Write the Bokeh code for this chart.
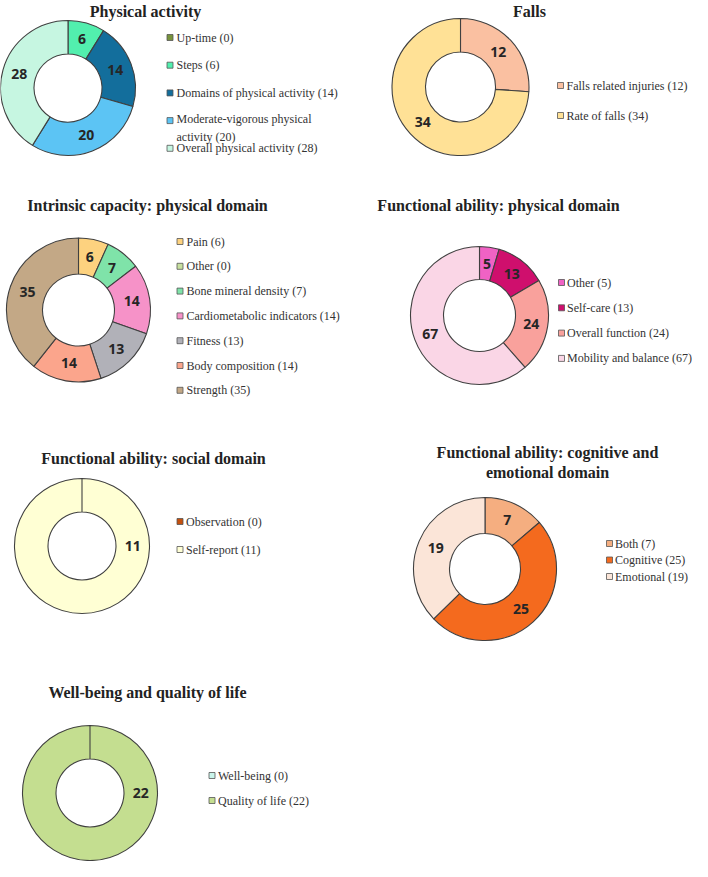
import math
import textwrap
from bokeh.plotting import figure
from bokeh.models import Range1d, ColumnDataSource
from bokeh.core.properties import value
from bokeh.embed import file_html
from bokeh.resources import INLINE

# ---------------- data ----------------
pa_categories = ["Up-time", "Steps", "Domains of physical activity",
                 "Moderate-vigorous physical activity", "Overall physical activity"]
pa_values = [0, 6, 14, 20, 28]

falls_categories = ["Falls related injuries", "Rate of falls"]
falls_values = [12, 34]

ic_categories = ["Pain", "Other", "Bone mineral density", "Cardiometabolic indicators",
                 "Fitness", "Body composition", "Strength"]
ic_values = [6, 0, 7, 14, 13, 14, 35]

fap_categories = ["Other", "Self-care", "Overall function", "Mobility and balance"]
fap_values = [5, 13, 24, 67]

fas_categories = ["Observation", "Self-report"]
fas_values = [0, 11]

face_categories = ["Both", "Cognitive", "Emotional"]
face_values = [7, 25, 19]

wb_categories = ["Well-being", "Quality of life"]
wb_values = [0, 22]

# ---------------- styles ----------------
pa_colors = ["#77933C", "#52EFAE", "#136E9C", "#5CC4F4", "#C6F6E1"]
falls_colors = ["#FAC0A1", "#FFE196"]
ic_colors = ["#FDD27F", "#C7E09F", "#7FE3A9", "#F692C8", "#B1B1B8", "#FBA58C", "#C3A886"]
fap_colors = ["#F062C4", "#CF0F6D", "#F9A19C", "#FAD6E6"]
fas_colors = ["#C4500E", "#FFFFD4"]
face_colors = ["#F5AE80", "#F46A1E", "#FBE5D8"]
wb_colors = ["#C9F4EA", "#C4DE90"]

charts = [
    dict(title="Physical activity", tx=153, ty=19, cats=pa_categories, vals=pa_values,
         cols=pa_colors, cx=75.5, cy=95.5, ro=67.5, ri=34, sx=177.5, lx=184, ly=45, ldy=27.7),
    dict(title="Falls", tx=537, ty=19, cats=falls_categories, vals=falls_values,
         cols=falls_colors, cx=468, cy=94.5, ro=68.5, ri=35, sx=568, lx=574, ly=93, ldy=30),
    dict(title="Intrinsic capacity: physical domain", tx=155, ty=213, cats=ic_categories,
         vals=ic_values, cols=ic_colors, cx=86, cy=317.5, ro=72, ri=36, sx=187.5, lx=194,
         ly=249, ldy=24.8),
    dict(title="Functional ability: physical domain", tx=506, ty=213, cats=fap_categories,
         vals=fap_values, cols=fap_colors, cx=487, cy=323, ro=69, ri=36, sx=569, lx=574.5,
         ly=290, ldy=25.3),
    dict(title="Functional ability: social domain", tx=161, ty=466, cats=fas_categories,
         vals=fas_values, cols=fas_colors, cx=89.5, cy=553.5, ro=67.5, ri=34, sx=187.5,
         lx=193.5, ly=529, ldy=28),
    dict(title="Functional ability: cognitive and\nemotional domain", tx=555, ty=470,
         cats=face_categories, vals=face_values, cols=face_colors, cx=492.5, cy=576.5,
         ro=71.5, ri=35.5, sx=617, lx=622.5, ly=551, ldy=16.5, middle=True),
    dict(title="Well-being and quality of life", tx=155, ty=700, cats=wb_categories,
         vals=wb_values, cols=wb_colors, cx=97.5, cy=800.5, ro=67.5, ri=34, sx=219.5,
         lx=225.5, ly=783, ldy=25),
]

H = 877  # reference page height, for flipping y


def Y(y):
    return H - y


p = figure(width=692, height=861, output_backend="svg", toolbar_location=None,
           x_range=Range1d(8, 700), y_range=Range1d(8, 869), min_border=0)
p.axis.visible = False
p.grid.visible = False
p.outline_line_color = None
p.background_fill_color = "white"
p.border_fill_color = "white"

OUTLINE = "#404040"
SERIF = value("Liberation Serif")

for c in charts:
    vals = c["vals"]
    total = float(sum(vals))
    cum = 0.0
    ws = dict(x=[], y=[], start=[], end=[], color=[])
    lab = dict(x=[], y=[], text=[])
    rm = (c["ro"] + c["ri"]) / 2.0
    for v, col in zip(vals, c["cols"]):
        a0 = cum / total * 2 * math.pi
        cum += v
        a1 = cum / total * 2 * math.pi
        if v > 0:
            ws["x"].append(c["cx"])
            ws["y"].append(Y(c["cy"]))
            if v == total:
                ws["start"].append(math.pi / 2)
                ws["end"].append(math.pi / 2 - 2 * math.pi + 1e-6)
                th = math.pi / 2
            else:
                ws["start"].append(math.pi / 2 - a0)
                ws["end"].append(math.pi / 2 - a1)
                th = (a0 + a1) / 2
            ws["color"].append(col)
            lab["x"].append(c["cx"] + rm * math.sin(th))
            lab["y"].append(Y(c["cy"] - rm * math.cos(th)))
            lab["text"].append(str(v))
    p.annular_wedge(x="x", y="y", inner_radius=c["ri"], outer_radius=c["ro"],
                    start_angle="start", end_angle="end", direction="clock",
                    fill_color="color", line_color=OUTLINE, line_width=1.1,
                    source=ColumnDataSource(ws))
    p.text(x="x", y="y", text="text", source=ColumnDataSource(lab),
           text_font=value("Open Sans"), text_font_style="bold", text_font_size="14px",
           text_color="#262626", text_align="center", text_baseline="middle")

    # title
    if c.get("middle"):
        p.text(x=[c["tx"]], y=[Y(c["ty"])], text=[c["title"]], text_font=SERIF,
               text_font_style="bold", text_font_size="16px", text_color="#222222",
               text_align="center", text_baseline="middle", text_line_height=1.12)
    else:
        p.text(x=[c["tx"]], y=[Y(c["ty"])], text=[c["title"]], text_font=SERIF,
               text_font_style="bold", text_font_size="16px", text_color="#222222",
               text_align="center", text_baseline="alphabetic")

    # legend
    sq = dict(x=[], y=[], color=[])
    lt = dict(x=[], y=[], text=[])
    for i, (cat, v, col) in enumerate(zip(c["cats"], vals, c["cols"])):
        yy = c["ly"] + i * c["ldy"]
        label = "\n".join(textwrap.wrap(f"{cat} ({v})", 34))
        n = label.count("\n") + 1
        sq["x"].append(c["sx"])
        sq["y"].append(Y(yy))
        sq["color"].append(col)
        lt["x"].append(c["lx"])
        lt["y"].append(Y(yy + (n - 1) * 7.5))
        lt["text"].append(label)
    p.rect(x="x", y="y", width=6, height=6, width_units="screen", height_units="screen",
           fill_color="color", line_color="#555555", line_width=0.8,
           source=ColumnDataSource(sq))
    p.text(x="x", y="y", text="text", source=ColumnDataSource(lt), text_font=SERIF,
           text_font_size="12px", text_color="#333333", text_align="left",
           text_baseline="middle", text_line_height=1.25)

open("out.html", "w").write(file_html(p, INLINE))
